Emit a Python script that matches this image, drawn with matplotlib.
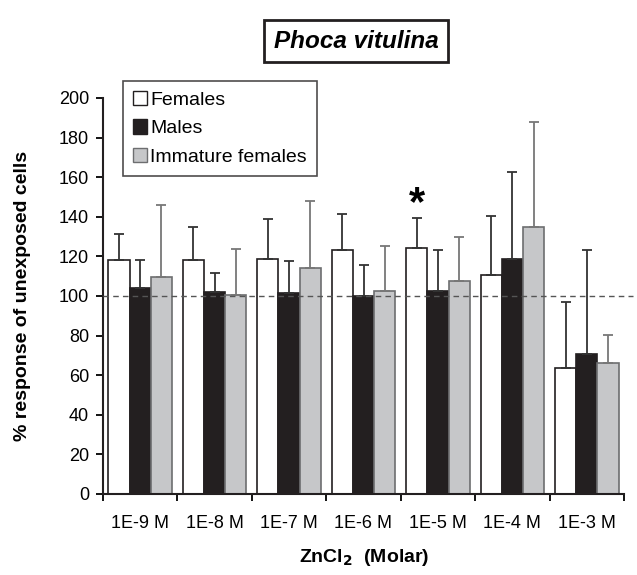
import matplotlib
matplotlib.use("Agg")
import matplotlib.pyplot as plt
import numpy as np
from matplotlib.patches import Rectangle

plt.rcParams['font.family'] = ['Liberation Sans', 'DejaVu Sans']

categories = ["1E-9 M", "1E-8 M", "1E-7 M", "1E-6 M", "1E-5 M", "1E-4 M", "1E-3 M"]
series_names = ["Females", "Males", "Immature females"]
females = [118, 118, 118.5, 123, 124, 110.5, 63.5]
females_sd = [13.3, 17, 20.3, 18.5, 15.2, 30, 33.6]
males = [104, 102, 101.7, 100, 102.4, 118.8, 70.8]
males_sd = [14.3, 9.4, 15.8, 15.6, 20.6, 43.9, 52.2]
immature = [109.4, 100.7, 114.3, 102.5, 107.7, 134.6, 66.4]
immature_sd = [36.6, 23.2, 33.7, 22.7, 22.2, 53.4, 13.8]
yticks = [0, 20, 40, 60, 80, 100, 120, 140, 160, 180, 200]
star_group = 4

fig = plt.figure(figsize=(6.37, 5.75), dpi=100)
ax = fig.add_axes([103/637, 1-494/575, 521/637, 396/575])

x = np.arange(len(categories)) + 0.5
bw = 0.285
styles = [
    dict(fc='white', ec='#231f20', err='#333333'),
    dict(fc='#231f20', ec='#231f20', err='#333333'),
    dict(fc='#c6c7c9', ec='#6d6e70', err='#777777'),
]
data = [(females, females_sd), (males, males_sd), (immature, immature_sd)]
for i, ((vals, sds), st) in enumerate(zip(data, styles)):
    xpos = x + (i - 1) * bw
    ax.bar(xpos, vals, width=bw, facecolor=st['fc'], edgecolor=st['ec'], linewidth=1.2, zorder=2)
    ax.errorbar(xpos, vals, yerr=[np.zeros(len(vals)), sds], fmt='none',
                ecolor=st['err'], elinewidth=1.3, capsize=3.5, capthick=1.3, zorder=3)

ax.plot([0, 7.12], [100, 100], linestyle=(0, (4, 3)), color='#555555', linewidth=1, clip_on=False, zorder=4)

ax.set_xlim(0, 7)
ax.set_ylim(0, 200)
ax.set_yticks(yticks)
ax.set_xticks(np.arange(0, 8))
ax.set_xticklabels([])
ax.set_xticks(x, minor=True)
ax.set_xticklabels(categories, minor=True)
ax.tick_params(axis='x', which='minor', length=0, pad=15, labelsize=13)
ax.tick_params(axis='x', which='major', length=5, width=1.3, direction='out')
ax.tick_params(axis='y', length=5, width=1.3, direction='out', labelsize=13, pad=5)
for s in ['top', 'right']:
    ax.spines[s].set_visible(False)
for s in ['left', 'bottom']:
    ax.spines[s].set_linewidth(1.5)
    ax.spines[s].set_color('#231f20')

fig.text(23/637, 1-296/575, '% response of unexposed cells', rotation=90, ha='center', va='center',
         fontsize=14, fontweight='bold')
fig.text(364/637, 1-557/575, 'ZnCl$_\\mathbf{2}$  (Molar)', ha='center', va='center',
         fontsize=14, fontweight='bold')

ax.text(x[star_group] - bw, females[star_group] + females_sd[star_group] - 3, '*',
        ha='center', va='bottom', fontsize=30, fontweight='bold')

handles = [Rectangle((0, 0), 1, 1, facecolor=st['fc'], edgecolor=st['ec'], linewidth=1) for st in styles]
leg = fig.legend(handles, series_names, loc='upper left', bbox_to_anchor=(123/637, 1-81/575),
                 fontsize=14, frameon=True, fancybox=False, edgecolor='#231f20',
                 handlelength=0.75, handleheight=0.75, handletextpad=0.15, labelspacing=0.55,
                 borderpad=0.5, borderaxespad=0)
leg.get_frame().set_linewidth(1.2)

fig.text(356/637, 1-41/575, 'Phoca vitulina', ha='center', va='center', fontsize=17.5,
         fontweight='bold', fontstyle='italic',
         bbox=dict(boxstyle='square,pad=0.4', facecolor='white', edgecolor='#231f20', linewidth=2))

fig.savefig('out.png', dpi=100)
